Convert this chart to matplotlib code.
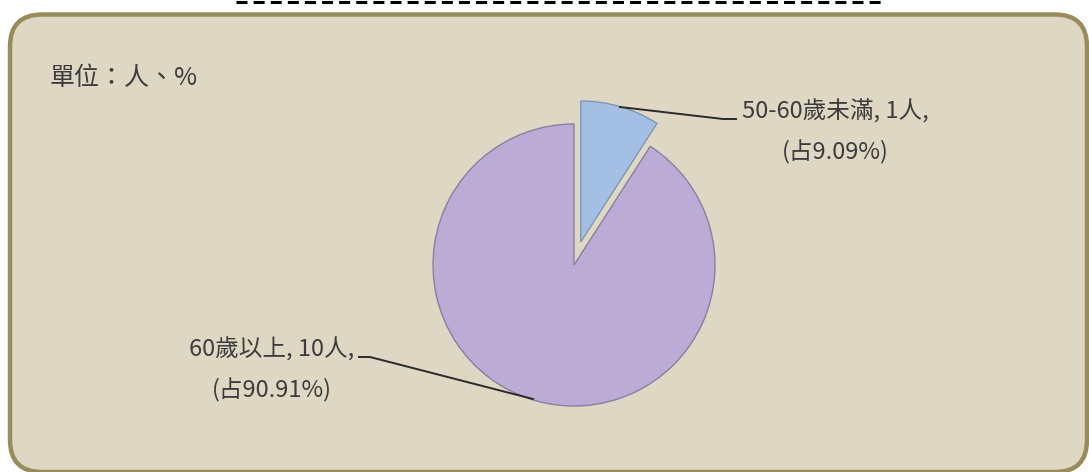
import matplotlib.pyplot as plt
from matplotlib.patches import FancyBboxPatch

plt.rcParams['font.family'] = ['Noto Sans CJK TC', 'DejaVu Sans']

# data
groups = ['50-60歲未滿', '60歲以上']
counts = [1, 10]
colors = ['#a3c0e4', '#bcabd5']
unit_text = '單位：人、%'

W, H = 1089, 472
fig = plt.figure(figsize=(W / 100, H / 100), dpi=100)
ax = fig.add_axes([0, 0, 1, 1])

# rounded frame
box = FancyBboxPatch((10, H - 472), 1077, 472 - 14.5,
                     boxstyle='round,pad=0,rounding_size=32',
                     facecolor='#ddd7c3', edgecolor='#978c5a', linewidth=3.2, zorder=0)
ax.add_patch(box)

# dashed line at the top edge
ax.plot([236, 881], [H - 1.5, H - 1.5], color='black', lw=2.2,
        linestyle=(0, (3.6, 2.0)), solid_capstyle='butt', dash_capstyle='butt')

ax.text(50, H - 78, unit_text, fontsize=18, color='#3c3c3c', va='center', ha='left')

total = sum(counts)
cx, cy, r = 574, H - 265, 141
wedges, _ = ax.pie(counts, colors=colors, startangle=90, counterclock=False,
                   explode=[0.17 * r, 0], center=(cx, cy), radius=r, frame=True,
                   wedgeprops=dict(edgecolor='#8a7fa0', linewidth=1.0))
wedges[0].set_edgecolor('#7f96b3')
ax.set_xlim(0, W)
ax.set_ylim(0, H)
ax.set_aspect('equal')
ax.axis('off')

labels = [f'{g}, {c}人,\n(占{c / total * 100:.2f}%)' for g, c in zip(groups, counts)]

# label 1 (top right)
ax.text(835, H - 132, labels[0], fontsize=17, color='#3c3c3c', ha='center', va='center',
        linespacing=1.87)
ax.plot([620, 723, 736], [H - 107, H - 119, H - 119], color='#2a2a2a', lw=1.4)

# label 2 (bottom left)
ax.text(272, H - 370, labels[1], fontsize=17, color='#3c3c3c', ha='center', va='center',
        linespacing=1.87)
ax.plot([359, 370, 533], [H - 357, H - 357, H - 399], color='#2a2a2a', lw=1.4)

fig.savefig('out.png', dpi=100)
